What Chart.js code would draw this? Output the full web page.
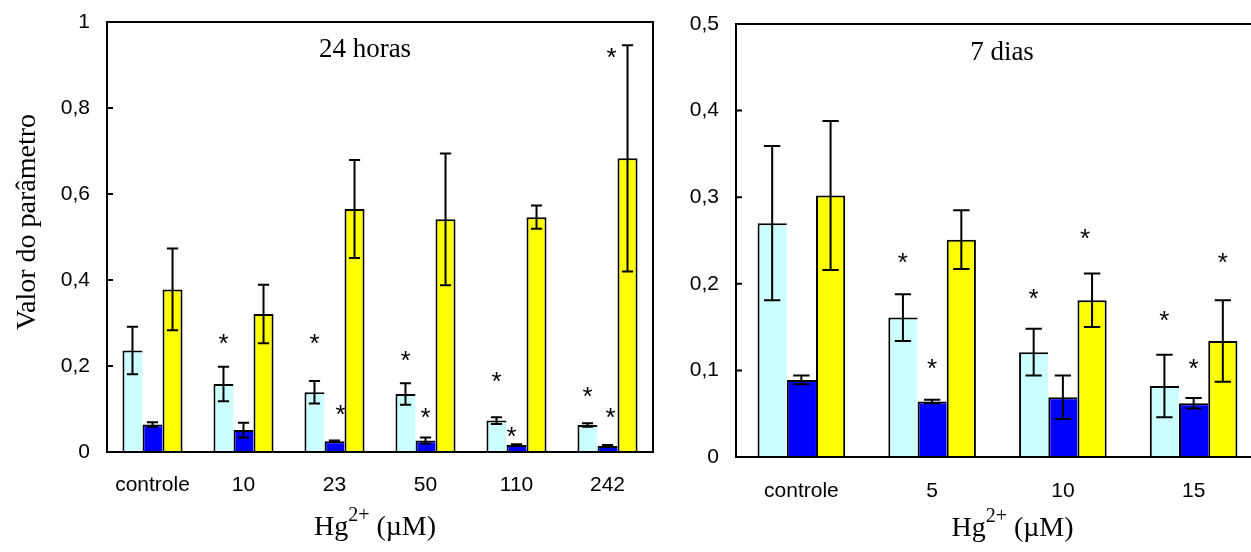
<!DOCTYPE html>
<html>
<head>
<meta charset="utf-8">
<script src="https://cdn.jsdelivr.net/npm/chart.js@4.4.1/dist/chart.umd.min.js"></script>
<style>
  html, body { margin: 0; padding: 0; background: #fff; overflow: hidden; }
  #wrap { position: relative; width: 1251px; height: 552px; overflow: hidden; }
  .panel { position: absolute; top: 0; height: 552px; }
  #p24 { left: 0; width: 680px; }
  #p7 { left: 665px; width: 620px; }
</style>
</head>
<body>
<div id="wrap">
  <div class="panel" id="p24"><canvas id="c24"></canvas></div>
  <div class="panel" id="p7"><canvas id="c7"></canvas></div>
</div>
<script>
// 24 horas
const doses24 = ['controle', '10', '23', '50', '110', '242'];
const cyan24 = [0.236, 0.158, 0.139, 0.135, 0.073, 0.063];
const cyan24Err = [0.055, 0.040, 0.026, 0.025, 0.008, 0.004];
const blue24 = [0.064, 0.051, 0.025, 0.027, 0.016, 0.014];
const blue24Err = [0.005, 0.017, 0.002, 0.007, 0.002, 0.002];
const yellow24 = [0.378, 0.321, 0.565, 0.541, 0.546, 0.683];
const yellow24Err = [0.095, 0.068, 0.114, 0.153, 0.027, 0.263];
// asterisks: [dataset, dose index, height]
const stars24 = [[0, 1, 0.263], [0, 2, 0.263], [1, 2, 0.098], [0, 3, 0.224], [1, 3, 0.091],
                 [0, 4, 0.175], [1, 4, 0.047], [0, 5, 0.140], [1, 5, 0.091], [2, 5, 0.928]];
const stars24Dx = [0, 0, 6, 0, 0, 0, -5, 0, 3, -16];

// 7 dias
const doses7 = ['controle', '5', '10', '15'];
const cyan7 = [0.270, 0.161, 0.121, 0.082];
const cyan7Err = [0.089, 0.027, 0.027, 0.036];
const blue7 = [0.089, 0.064, 0.069, 0.062];
const blue7Err = [0.005, 0.002, 0.025, 0.006];
const yellow7 = [0.302, 0.251, 0.181, 0.134];
const yellow7Err = [0.086, 0.034, 0.031, 0.047];
const stars7 = [[0, 1, 0.230], [1, 1, 0.107], [0, 2, 0.188], [2, 2, 0.257],
                [0, 3, 0.163], [1, 3, 0.107], [2, 3, 0.230]];
const stars7Dx = [0, 0, 0, -7, 0, 0, 0];

const SERIF = '"Liberation Serif", "Times New Roman", serif';
const SANS = '"Liberation Sans", Arial, sans-serif';

// mean ± sd whiskers drawn over every bar
const errorBars = {
  id: 'errorBars',
  afterDatasetsDraw(chart) {
    const ctx = chart.ctx, y = chart.scales.y;
    ctx.save();
    ctx.strokeStyle = '#000';
    ctx.lineWidth = 2;
    chart.data.datasets.forEach((ds, i) => {
      chart.getDatasetMeta(i).data.forEach((bar, j) => {
        const v = ds.data[j], e = ds.errors[j];
        const top = y.getPixelForValue(v + e), bot = y.getPixelForValue(v - e);
        const half = bar.width * 0.28;
        ctx.beginPath();
        ctx.moveTo(bar.x, top); ctx.lineTo(bar.x, bot);
        ctx.moveTo(bar.x - half, top); ctx.lineTo(bar.x + half, top);
        ctx.moveTo(bar.x - half, bot); ctx.lineTo(bar.x + half, bot);
        ctx.stroke();
      });
    });
    ctx.restore();
  }
};

// box, inner ticks, asterisks and titles
const decor = {
  id: 'decor',
  afterDraw(chart, args, o) {
    const ctx = chart.ctx, a = chart.chartArea, y = chart.scales.y;
    ctx.save();
    ctx.strokeStyle = '#000';
    ctx.lineWidth = 2;
    ctx.strokeRect(a.left, a.top, a.right - a.left, a.bottom - a.top);
    ctx.beginPath();
    y.ticks.forEach(t => {
      const py = y.getPixelForValue(t.value);
      ctx.moveTo(a.left, py); ctx.lineTo(a.left + 6, py);
    });
    ctx.stroke();

    ctx.fillStyle = '#000';
    ctx.font = '26px ' + SANS;
    ctx.textAlign = 'center';
    ctx.textBaseline = 'alphabetic';
    const m = ctx.measureText('*');
    const mid = (m.actualBoundingBoxDescent - m.actualBoundingBoxAscent) / 2;
    o.stars.forEach((s, k) => {
      const bar = chart.getDatasetMeta(s[0]).data[s[1]];
      ctx.fillText('*', bar.x + o.starsDx[k], y.getPixelForValue(s[2]) - mid);
    });

    ctx.font = '27px ' + SERIF;
    ctx.fillText(o.panel, a.left + o.panelX, a.top + o.panelY);

    // Hg2+ (µM)
    const base = a.bottom + o.xTitleY;
    ctx.font = '28px ' + SERIF;
    const w1 = ctx.measureText('Hg').width, w3 = ctx.measureText(' (\u00b5M)').width;
    ctx.font = '20px ' + SERIF;
    const w2 = ctx.measureText('2+').width;
    let x = (a.left + a.right) / 2 + o.xTitleDx - (w1 + w2 + w3) / 2;
    ctx.textAlign = 'left';
    ctx.font = '28px ' + SERIF;
    ctx.fillText('Hg', x, base);
    x += w1;
    ctx.font = '20px ' + SERIF;
    ctx.fillText('2+', x, base - 14);
    x += w2;
    ctx.font = '28px ' + SERIF;
    ctx.fillText(' (\u00b5M)', x, base);

    if (o.yTitle) {
      ctx.translate(o.yTitleX, (a.top + a.bottom) / 2 + o.yTitleDy);
      ctx.rotate(-Math.PI / 2);
      ctx.textAlign = 'center';
      ctx.textBaseline = 'middle';
      ctx.fillText(o.yTitle, 0, 0);
    }
    ctx.restore();
  }
};

function barSet(values, errors, color, right) {
  return {
    data: values,
    errors: errors,
    backgroundColor: color,
    borderColor: '#000',
    borderWidth: { top: 2, left: 2, right: right, bottom: 0 },
    borderSkipped: false
  };
}

function makeChart(id, cfg) {
  return new Chart(document.getElementById(id), {
    type: 'bar',
    data: {
      labels: cfg.labels,
      datasets: [
        barSet(cfg.cyan, cfg.cyanErr, '#ccffff', 0),
        barSet(cfg.blue, cfg.blueErr, '#0000ff', 0),
        barSet(cfg.yellow, cfg.yellowErr, '#ffff00', 2)
      ]
    },
    options: {
      responsive: true,
      maintainAspectRatio: false,
      animation: false,
      layout: { padding: cfg.padding },
      datasets: { bar: { categoryPercentage: cfg.groupWidth, barPercentage: 1 } },
      plugins: {
        legend: { display: false },
        tooltip: { enabled: false },
        decor: cfg.decor
      },
      scales: {
        x: {
          grid: { display: false, drawTicks: false },
          border: { display: false },
          ticks: { color: '#000', font: { family: SANS, size: 21 }, padding: cfg.xPad, maxRotation: 0, autoSkip: false },
          afterFit: s => { s.height = cfg.xHeight; s.paddingLeft = 0; s.paddingRight = 0; }
        },
        y: {
          min: 0,
          max: cfg.yMax,
          grid: { display: false, drawTicks: false },
          border: { display: false },
          ticks: {
            stepSize: cfg.yStep,
            color: '#000',
            padding: 17,
            font: { family: SANS, size: 21 },
            callback: v => String(Math.round(v * 10) / 10).replace('.', ',')
          },
          afterFit: s => { s.width = cfg.yWidth; s.paddingTop = 0; s.paddingBottom = 0; }
        }
      }
    },
    plugins: [errorBars, decor]
  });
}

makeChart('c24', {
  labels: doses24,
  cyan: cyan24, cyanErr: cyan24Err,
  blue: blue24, blueErr: blue24Err,
  yellow: yellow24, yellowErr: yellow24Err,
  yMax: 1, yStep: 0.2,
  padding: { top: 22, right: 27, left: 0, bottom: 0 },
  yWidth: 107, xHeight: 100, xPad: 21, groupWidth: 0.66,
  decor: {
    stars: stars24, starsDx: stars24Dx,
    panel: '24 horas', panelX: 258, panelY: 35,
    xTitleY: 83, xTitleDx: -5,
    yTitle: 'Valor do par\u00e2metro', yTitleX: 28, yTitleDy: -15
  }
});

makeChart('c7', {
  labels: doses7,
  cyan: cyan7, cyanErr: cyan7Err,
  blue: blue7, blueErr: blue7Err,
  yellow: yellow7, yellowErr: yellow7Err,
  yMax: 0.5, yStep: 0.1,
  padding: { top: 24, right: 26, left: 0, bottom: 0 },
  yWidth: 71, xHeight: 95, xPad: 22, groupWidth: 0.67,
  decor: {
    stars: stars7, starsDx: stars7Dx,
    panel: '7 dias', panelX: 266, panelY: 36,
    xTitleY: 79, xTitleDx: 15,
    yTitle: null
  }
});
</script>
</body>
</html>
